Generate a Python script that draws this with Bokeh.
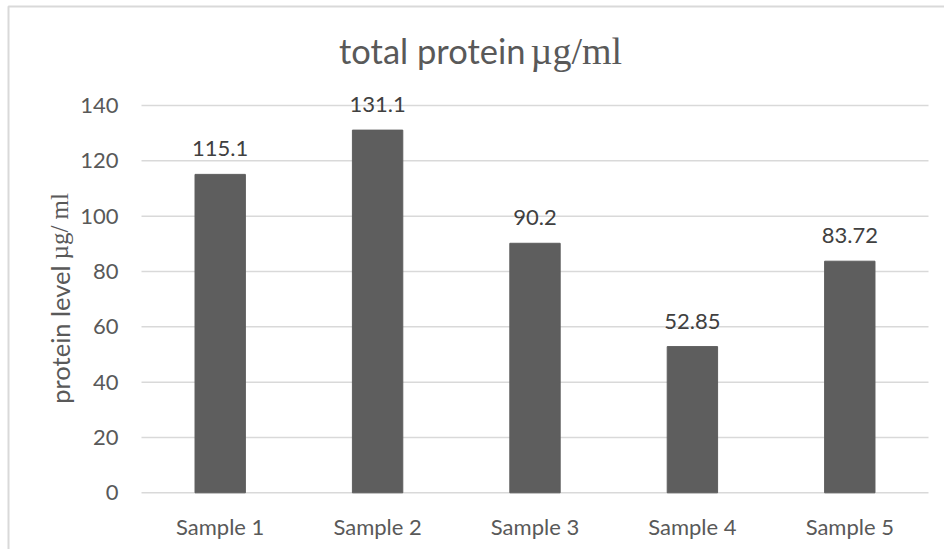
import math

from bokeh.embed import file_html
from bokeh.models import ColumnDataSource, FixedTicker, Label, LabelSet, LinearAxis, Range1d
from bokeh.core.properties import value
from bokeh.plotting import figure
from bokeh.resources import INLINE

# Total protein per sample (µg/ml)
samples = ["Sample 1", "Sample 2", "Sample 3", "Sample 4", "Sample 5"]
protein = [115.1, 131.1, 90.2, 52.85, 83.72]
y_ticks = [0, 20, 40, 60, 80, 100, 120, 140]

SANS = "Lato"
SERIF = "Liberation Serif"
TICK_COLOR = "#595959"
LABEL_COLOR = "#404040"
GRID_COLOR = "#d9d9d9"
BAR_COLOR = "#5e5e5e"

# Page geometry (pixels): the frame covers the whole canvas, the bar area sits inside it
W, H = 944, 549
AREA_LEFT, AREA_RIGHT, AREA_TOP, AREA_BOTTOM = 141, 928, 105, 492.3
Y_MAX = y_ticks[-1]
n = len(samples)

x_per_px = n / (AREA_RIGHT - AREA_LEFT)
y_per_px = Y_MAX / (AREA_BOTTOM - AREA_TOP)


def px_x(px):
    return (px - AREA_LEFT) * x_per_px


def px_y(py):
    return (AREA_BOTTOM - py) * y_per_px


positions = [i + 0.5 for i in range(n)]

source = ColumnDataSource(dict(
    x=positions,
    protein=protein,
    label=[f"{v:g}" for v in protein],
))

p = figure(
    width=W, height=H,
    x_range=Range1d(px_x(0), px_x(W)),
    y_range=Range1d(px_y(H), px_y(0)),
    x_axis_type=None, y_axis_type=None,
    min_border=0,
    output_backend="svg", toolbar_location=None, tools="",
)
p.outline_line_color = None
p.background_fill_color = "white"
p.border_fill_color = "white"

# horizontal gridlines across the bar area only
p.segment(x0=0, x1=n, y0=y_ticks, y1=y_ticks, line_color=GRID_COLOR, line_width=1.5)

# value axis: tick labels only, pinned to the left edge of the bar area
yaxis = LinearAxis(fixed_location=0, ticker=FixedTicker(ticks=y_ticks))
yaxis.axis_line_color = None
yaxis.major_tick_line_color = None
yaxis.minor_tick_line_color = None
yaxis.major_label_standoff = 17
yaxis.major_label_text_font = SANS
yaxis.major_label_text_font_size = "22px"
yaxis.major_label_text_color = TICK_COLOR
p.add_layout(yaxis, "left")

# category axis: sample names under each bar
xaxis = LinearAxis(fixed_location=0, ticker=FixedTicker(ticks=positions),
                   major_label_overrides={pos: name for pos, name in zip(positions, samples)})
xaxis.axis_line_color = None
xaxis.major_tick_line_color = None
xaxis.minor_tick_line_color = None
xaxis.major_label_standoff = 14
xaxis.major_label_text_font = SANS
xaxis.major_label_text_font_size = "22px"
xaxis.major_label_text_color = TICK_COLOR
p.add_layout(xaxis, "below")

# bars
p.vbar(x="x", top="protein", width=0.32, source=source,
       fill_color=BAR_COLOR, line_color=BAR_COLOR)

# value labels above the bars
p.add_layout(LabelSet(
    x="x", y="protein", text="label", source=source,
    y_offset=18, text_align="center", text_baseline="alphabetic",
    text_font=value(SANS), text_font_size="22px", text_color=LABEL_COLOR,
))

# chart title: sans words followed by a serif unit
p.add_layout(Label(x=px_x(525), y=px_y(50), text="total protein",
                   text_align="right", text_baseline="alphabetic",
                   text_font=SANS, text_font_size="34.5px", text_color=TICK_COLOR))
p.add_layout(Label(x=px_x(530), y=px_y(50), text="µg/ml",
                   text_align="left", text_baseline="alphabetic",
                   text_font=SERIF, text_font_size="38px", text_color=TICK_COLOR))

# vertical axis title, same mix of fonts
p.add_layout(Label(x=px_x(59), y=px_y(265), text="protein level",
                   angle=math.pi / 2, text_align="right", text_baseline="alphabetic",
                   text_font=SANS, text_font_size="25.5px", text_color=TICK_COLOR))
p.add_layout(Label(x=px_x(59), y=px_y(259), text="µg/ ml",
                   angle=math.pi / 2, text_align="left", text_baseline="alphabetic",
                   text_font=SERIF, text_font_size="25px", text_color=TICK_COLOR))

# chart area border (left and top edges)
p.add_layout(Label(x=px_x(8), y=px_y(6), text=" ",
                   text_align="left", text_baseline="top",
                   padding=dict(left=0, top=0, right=3000, bottom=3000),
                   border_line_color=GRID_COLOR, border_line_width=2,
                   background_fill_color=None, text_font_size="1px"))

open("out.html", "w").write(file_html(p, INLINE))
